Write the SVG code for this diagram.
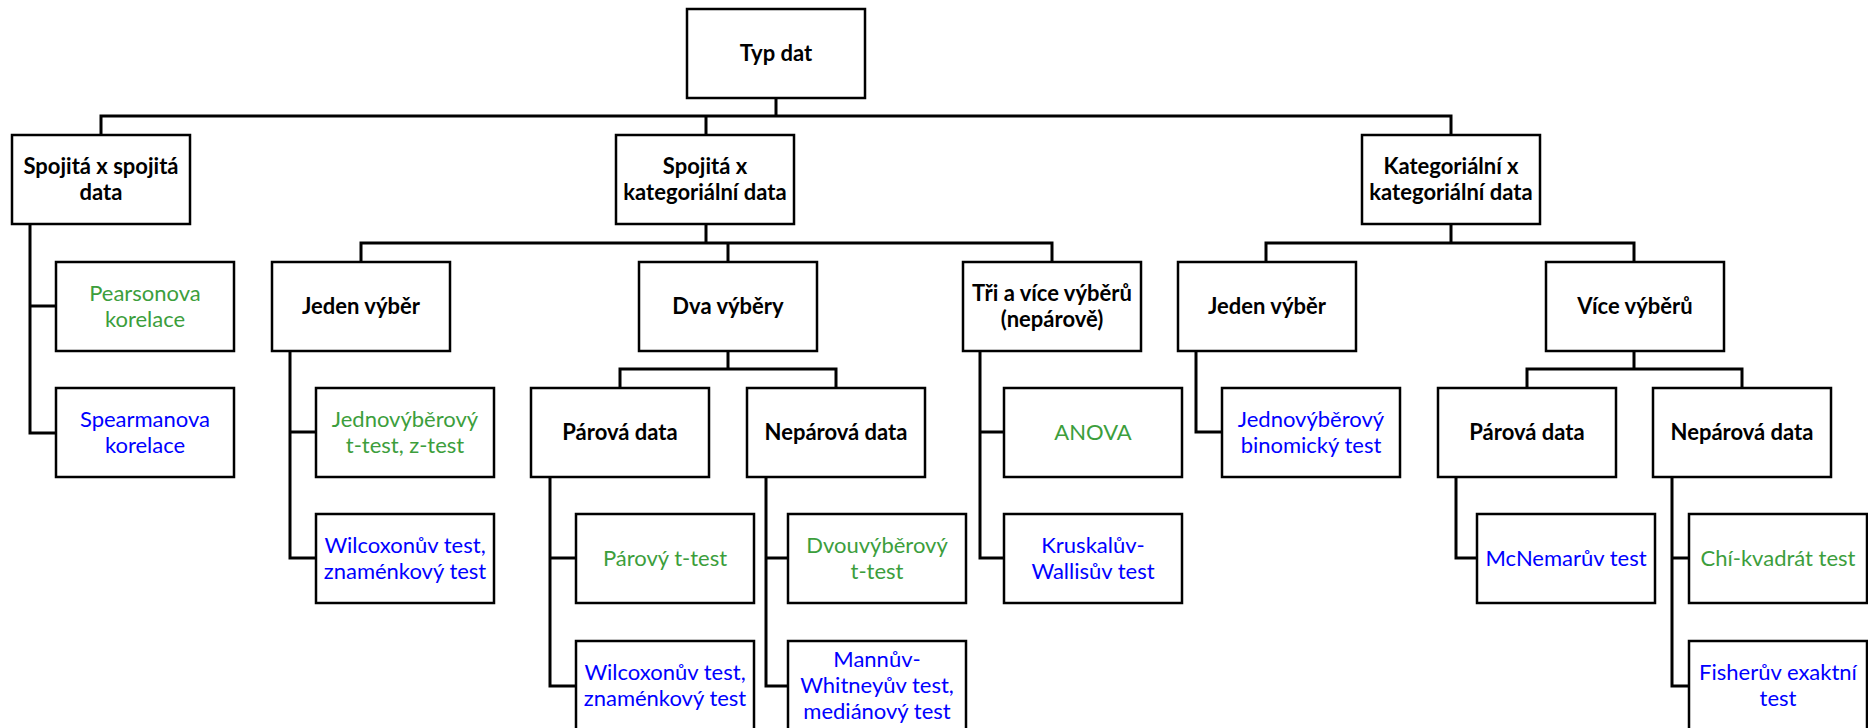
<svg xmlns="http://www.w3.org/2000/svg" width="1868" height="728" viewBox="0 0 1868 728">
<style>
.box{fill:#fff;stroke:#000;stroke-width:2.5}
.con{fill:none;stroke:#000;stroke-width:3;stroke-linecap:square}
text{font-family:Lato,"Open Sans","Liberation Sans",sans-serif;font-size:22px;text-anchor:middle}
.h{font-weight:bold;fill:#000}
.g{fill:#3c9e3c}
.b{fill:#0000ff}
</style>
<rect width="1868" height="728" fill="#fff"/>
<g id="connectors">
<path class="con" d="M776 98V116M101 116H1451M101 116V135M706 116V135M1451 116V135"/>
<path class="con" d="M30 224V433M30 306H56M30 433H56"/>
<path class="con" d="M706 224V243M361 243H1052M361 243V262M728 243V262M1052 243V262"/>
<path class="con" d="M290 351V558M290 432H316M290 558H316"/>
<path class="con" d="M728 351V369M620 369H836M620 369V388M836 369V388"/>
<path class="con" d="M550 477V686M550 558H576M550 686H576"/>
<path class="con" d="M766 477V686M766 558H788M766 686H788"/>
<path class="con" d="M980 351V558M980 432H1004M980 558H1004"/>
<path class="con" d="M1451 224V243M1266 243H1634M1266 243V262M1634 243V262"/>
<path class="con" d="M1196 351V432H1222"/>
<path class="con" d="M1634 351V369M1527 369H1742M1527 369V388M1742 369V388"/>
<path class="con" d="M1456 477V558H1477"/>
<path class="con" d="M1672 477V686M1672 558H1689M1672 686H1689"/>
</g>
<g id="typ-dat"><rect class="box" x="687" y="9" width="178" height="89"/><text class="h" x="776" y="61">Typ dat</text></g>
<g id="spojita-spojita"><rect class="box" x="12" y="135" width="178" height="89"/><text class="h" x="101" y="174">Spojitá x spojitá</text><text class="h" x="101" y="200">data</text></g>
<g id="spojita-kategorialni"><rect class="box" x="616" y="135" width="178" height="89"/><text class="h" x="705" y="174">Spojitá x</text><text class="h" x="705" y="200">kategoriální data</text></g>
<g id="kategorialni-kategorialni"><rect class="box" x="1362" y="135" width="178" height="89"/><text class="h" x="1451" y="174">Kategoriální x</text><text class="h" x="1451" y="200">kategoriální data</text></g>
<g id="pearson"><rect class="box" x="56" y="262" width="178" height="89"/><text class="g" x="145" y="301">Pearsonova</text><text class="g" x="145" y="327">korelace</text></g>
<g id="jeden-vyber"><rect class="box" x="272" y="262" width="178" height="89"/><text class="h" x="361" y="314">Jeden výběr</text></g>
<g id="dva-vybery"><rect class="box" x="639" y="262" width="178" height="89"/><text class="h" x="728" y="314">Dva výběry</text></g>
<g id="tri-vybery"><rect class="box" x="963" y="262" width="178" height="89"/><text class="h" x="1052" y="301">Tři a více výběrů</text><text class="h" x="1052" y="327">(nepárově)</text></g>
<g id="jeden-vyber-k"><rect class="box" x="1178" y="262" width="178" height="89"/><text class="h" x="1267" y="314">Jeden výběr</text></g>
<g id="vice-vyberu"><rect class="box" x="1546" y="262" width="178" height="89"/><text class="h" x="1635" y="314">Více výběrů</text></g>
<g id="spearman"><rect class="box" x="56" y="388" width="178" height="89"/><text class="b" x="145" y="427">Spearmanova</text><text class="b" x="145" y="453">korelace</text></g>
<g id="jednovyberovy-t"><rect class="box" x="316" y="388" width="178" height="89"/><text class="g" x="405" y="427">Jednovýběrový</text><text class="g" x="405" y="453">t-test, z-test</text></g>
<g id="parova"><rect class="box" x="531" y="388" width="178" height="89"/><text class="h" x="620" y="440">Párová data</text></g>
<g id="neparova"><rect class="box" x="747" y="388" width="178" height="89"/><text class="h" x="836" y="440">Nepárová data</text></g>
<g id="anova"><rect class="box" x="1004" y="388" width="178" height="89"/><text class="g" x="1093" y="440">ANOVA</text></g>
<g id="binom"><rect class="box" x="1222" y="388" width="178" height="89"/><text class="b" x="1311" y="427">Jednovýběrový</text><text class="b" x="1311" y="453">binomický test</text></g>
<g id="parova-k"><rect class="box" x="1438" y="388" width="178" height="89"/><text class="h" x="1527" y="440">Párová data</text></g>
<g id="neparova-k"><rect class="box" x="1653" y="388" width="178" height="89"/><text class="h" x="1742" y="440">Nepárová data</text></g>
<g id="wilcoxon1"><rect class="box" x="316" y="514" width="178" height="89"/><text class="b" x="405" y="553">Wilcoxonův test,</text><text class="b" x="405" y="579">znaménkový test</text></g>
<g id="parovy-t"><rect class="box" x="576" y="514" width="178" height="89"/><text class="g" x="665" y="566">Párový t-test</text></g>
<g id="dvouvyberovy"><rect class="box" x="788" y="514" width="178" height="89"/><text class="g" x="877" y="553">Dvouvýběrový</text><text class="g" x="877" y="579">t-test</text></g>
<g id="kruskal"><rect class="box" x="1004" y="514" width="178" height="89"/><text class="b" x="1093" y="553">Kruskalův-</text><text class="b" x="1093" y="579">Wallisův test</text></g>
<g id="mcnemar"><rect class="box" x="1477" y="514" width="178" height="89"/><text class="b" x="1566" y="566">McNemarův test</text></g>
<g id="chi"><rect class="box" x="1689" y="514" width="178" height="89"/><text class="g" x="1778" y="566">Chí-kvadrát test</text></g>
<g id="wilcoxon2"><rect class="box" x="576" y="641" width="178" height="89"/><text class="b" x="665" y="680">Wilcoxonův test,</text><text class="b" x="665" y="706">znaménkový test</text></g>
<g id="mann"><rect class="box" x="788" y="641" width="178" height="89"/><text class="b" x="877" y="667">Mannův-</text><text class="b" x="877" y="693">Whitneyův test,</text><text class="b" x="877" y="719">mediánový test</text></g>
<g id="fisher"><rect class="box" x="1689" y="641" width="178" height="89"/><text class="b" x="1778" y="680">Fisherův exaktní</text><text class="b" x="1778" y="706">test</text></g>
</svg>
